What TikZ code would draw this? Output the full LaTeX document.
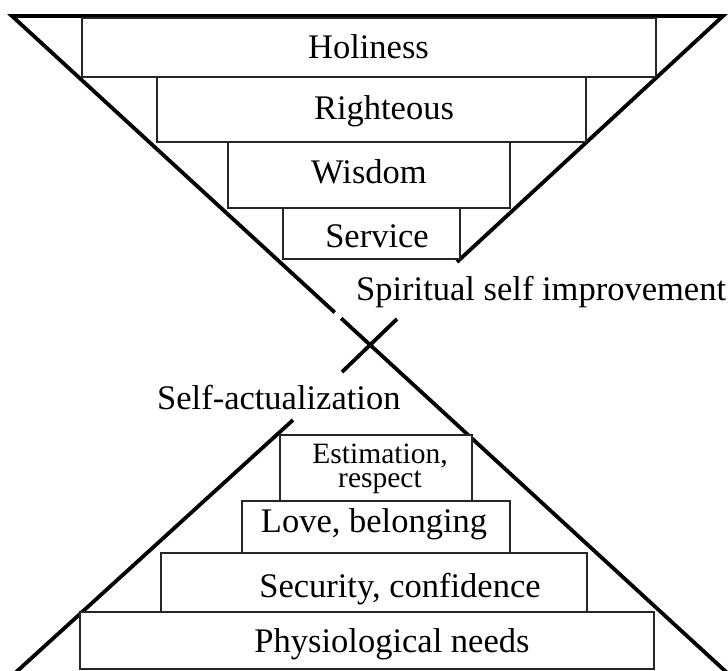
\documentclass[tikz,border=0pt]{standalone}
\usepackage{fontspec}
\setmainfont{Liberation Serif}
\begin{document}
\begin{tikzpicture}[x=1pt,y=-1pt,
  heavy/.style={line width=3.8pt,black,line join=miter},
  tier/.style={draw=black!85,line width=1.5pt,fill=white},
  lbl/.style={anchor=base,inner sep=0pt,font=\fontsize{34.5}{38}\selectfont},
  slbl/.style={anchor=base,inner sep=0pt,align=center,font=\fontsize{29.5}{24}\selectfont}]
\useasboundingbox (0,0) rectangle (728,670);
\clip (0,0) rectangle (728,670);
% key points of the hourglass
\coordinate (TL) at (12,16);
\coordinate (TR) at (723,16);
\coordinate (BR) at (728.4,674);
\coordinate (Rend) at (457,262);
\coordinate (Xa) at (397,319);
\coordinate (Xb) at (342,372);
\coordinate (Lt) at (293,420);
\coordinate (Lb) at (14,674);
\path (TL) -- (BR) coordinate[pos=0.4505] (Ag1) coordinate[pos=0.4595] (Ag2);
% thick lines
\draw[heavy] (Ag1) -- (TL) -- (TR) -- (Rend);
\draw[heavy] (Ag2) -- (BR);
\draw[heavy] (Xa) -- (Xb);
\draw[heavy] (Lt) -- (Lb);
% upper tiers
\draw[tier] (82,18) rectangle (656,77);
\draw[tier] (157,77) rectangle (586,142);
\draw[tier] (228,142) rectangle (510,208);
\draw[tier] (283,208) rectangle (460,259);
% lower tiers
\draw[tier] (280,435) rectangle (472,501);
\draw[tier] (242,501) rectangle (510,553);
\draw[tier] (161,553) rectangle (587,612);
\draw[tier] (80,612) rectangle (654,669);
% labels
\node[lbl] (holy) at (368.5,58) {Holiness};
\node[lbl] (right) at (384,119) {Righteous};
\node[lbl] (wis) at (369,183) {Wisdom};
\node[lbl] (serv) at (377,247) {Service};
\node[lbl,anchor=base west] (spir) at (356,300) {Spiritual self improvement};
\node[lbl,anchor=base west] (selfact) at (157,409) {Self-actualization};
\node[slbl] (est) at (380,487) {Estimation,\\respect};
\node[lbl] (love) at (374,532) {Love, belonging};
\node[lbl] (sec) at (400,597) {Security, confidence};
\node[lbl] (phys) at (392,652) {Physiological needs};
\end{tikzpicture}
\end{document}
